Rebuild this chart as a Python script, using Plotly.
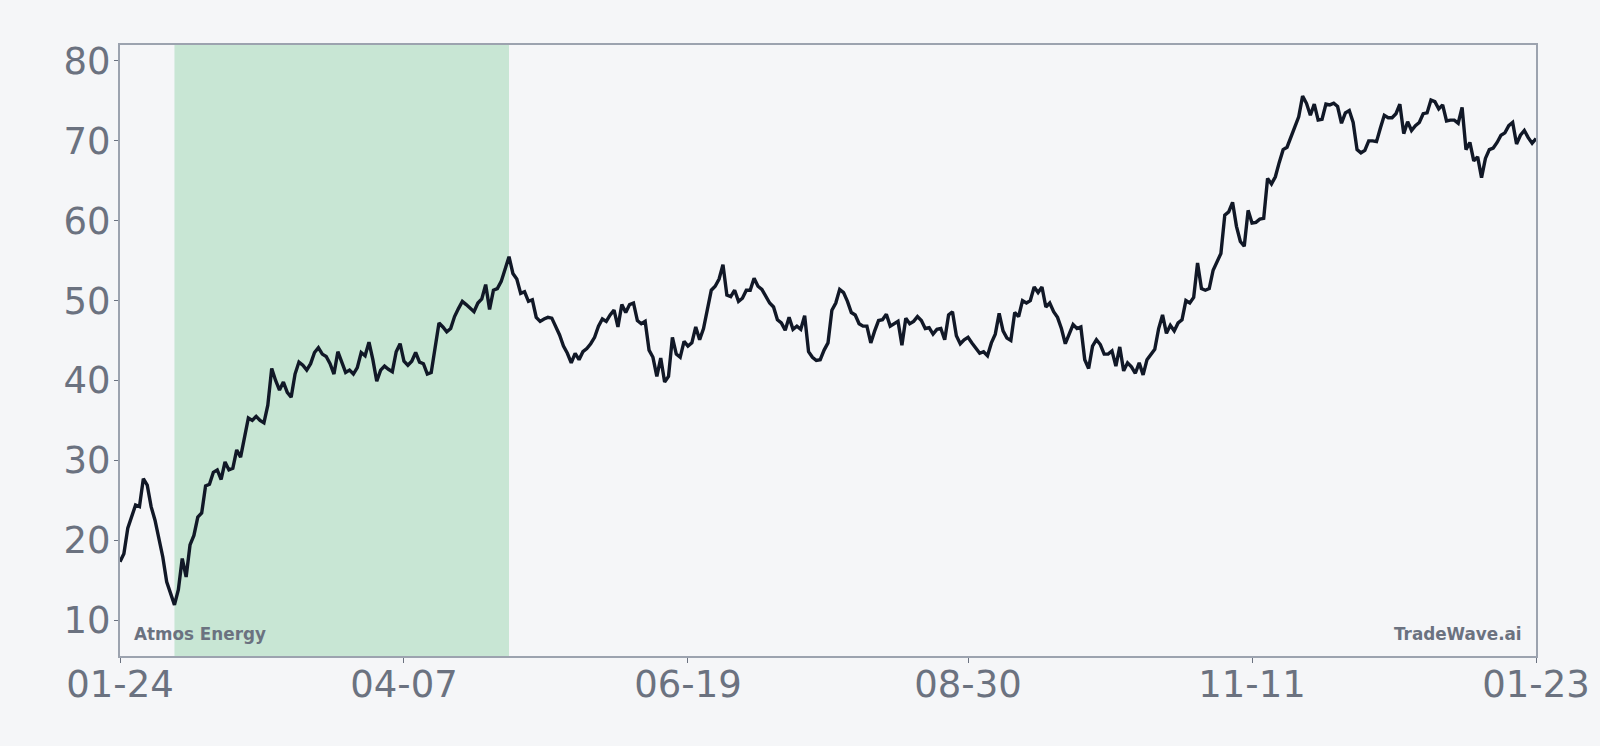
import pandas as pd
import plotly.graph_objects as go

start_date = "2023-01-24"
values = [
    17.3, 18.3, 21.5, 22.9, 24.4, 24.2, 27.7, 26.9, 24.2, 22.5,
    20.4, 17.9, 14.8, 13.3, 11.9, 13.8, 17.7, 15.4, 19.4, 20.6,
    22.9, 23.4, 26.8, 27.0, 28.5, 28.8, 27.6, 29.8, 28.8, 29.0,
    31.3, 30.4, 32.9, 35.3, 35.0, 35.5, 35.0, 34.7, 36.9, 41.5,
    40.0, 38.8, 39.8, 38.5, 37.9, 40.8, 42.3, 41.9, 41.3, 42.1,
    43.5, 44.1, 43.3, 43.0, 42.1, 40.8, 43.6, 42.4, 41.0, 41.3,
    40.8, 41.6, 43.5, 43.1, 44.8, 42.6, 39.9, 41.3, 41.8, 41.4,
    41.1, 43.6, 44.6, 42.4, 41.9, 42.4, 43.5, 42.3, 42.1, 40.8,
    41.0, 44.1, 47.2, 46.7, 46.1, 46.5, 48.0, 49.0, 49.9, 49.5,
    49.0, 48.6, 49.7, 50.2, 52.0, 48.9, 51.3, 51.5, 52.4, 53.8,
    55.5, 53.4, 52.7, 50.9, 51.1, 49.9, 50.1, 47.9, 47.4, 47.7,
    47.9, 47.8, 46.8, 45.7, 44.3, 43.4, 42.2, 43.4, 42.6, 43.6,
    44.0, 44.6, 45.4, 46.8, 47.7, 47.4, 48.2, 48.8, 46.7, 49.5,
    48.5, 49.5, 49.7, 47.5, 47.1, 47.4, 43.8, 42.9, 40.5, 42.8,
    39.8, 40.5, 45.4, 43.3, 42.9, 44.9, 44.3, 44.7, 46.7, 45.1,
    46.5, 48.8, 51.3, 51.8, 52.7, 54.5, 50.7, 50.5, 51.3, 49.9,
    50.3, 51.3, 51.3, 52.8, 51.8, 51.4, 50.5, 49.7, 49.2, 47.6,
    47.2, 46.3, 47.9, 46.4, 46.8, 46.4, 48.1, 43.6, 42.9, 42.5,
    42.6, 43.8, 44.7, 48.8, 49.7, 51.4, 51.0, 49.9, 48.5, 48.2,
    47.1, 46.8, 46.8, 44.7, 46.2, 47.5, 47.6, 48.3, 46.8, 47.1,
    47.4, 44.4, 47.8, 47.1, 47.4, 48.0, 47.5, 46.5, 46.6, 45.8,
    46.4, 46.5, 45.1, 48.2, 48.6, 45.6, 44.6, 45.1, 45.4, 44.7,
    44.1, 43.4, 43.6, 43.1, 44.7, 45.8, 48.4, 46.2, 45.3, 45.0,
    48.5, 48.0, 50.0, 49.7, 50.0, 51.7, 51.0, 51.7, 49.2, 49.7,
    48.6, 47.9, 46.5, 44.6, 45.8, 47.0, 46.5, 46.7, 42.6, 41.5,
    44.3, 45.1, 44.5, 43.3, 43.3, 43.7, 41.8, 44.2, 41.2, 42.2,
    41.7, 40.9, 42.2, 40.7, 42.6, 43.3, 43.9, 46.5, 48.2, 45.9,
    46.9, 46.2, 47.2, 47.6, 50.0, 49.7, 50.4, 54.7, 51.5, 51.3,
    51.5, 53.8, 54.8, 55.9, 60.7, 61.1, 62.3, 59.3, 57.4, 56.8,
    61.3, 59.7, 59.8, 60.2, 60.3, 65.3, 64.6, 65.5, 67.3, 68.9,
    69.2, 70.4, 71.6, 73.0, 75.6, 74.7, 73.2, 74.6, 72.6, 72.7,
    74.6, 74.5, 74.7, 74.3, 72.2, 73.5, 73.8, 72.3, 68.9, 68.5,
    68.8, 70.0, 70.0, 69.9, 71.6, 73.2, 72.9, 72.9, 73.4, 74.6,
    70.9, 72.4, 71.3, 71.9, 72.3, 73.4, 73.5, 75.1, 74.9, 74.0,
    74.5, 72.5, 72.6, 72.6, 72.2, 74.2, 68.9, 69.8, 67.5, 68.0,
    65.4, 67.8, 68.9, 69.1, 69.8, 70.7, 71.0, 71.9, 72.3, 69.6,
    70.7, 71.3, 70.4, 69.7, 70.3,
]
tick_dates = ["2023-01-24", "2023-04-07", "2023-06-19", "2023-08-30", "2023-11-11", "2024-01-23"]
shade_start = "2023-02-07"
shade_end = "2023-05-04"
company = "Atmos Energy"
brand = "TradeWave.ai"

dates = pd.date_range(start=start_date, periods=len(values), freq="D")

BG = "#f5f6f8"
GRAY = "#6b7280"
AXIS = "#9ca3af"

fig = go.Figure()
fig.add_trace(go.Scatter(
    x=dates, y=values, mode="lines",
    line=dict(color="#111827", width=3.4),
    hoverinfo="x+y", showlegend=False,
))

fig.add_vrect(x0=shade_start, x1=shade_end, fillcolor="#c8e6d4", opacity=1,
              line_width=0, layer="below")

fig.add_annotation(text=company, xref="paper", yref="paper", x=0, y=0,
                   xanchor="left", yanchor="bottom", xshift=12, yshift=10,
                   showarrow=False,
                   font=dict(family="DejaVu Sans", size=16.8, color=GRAY, weight="bold"))
fig.add_annotation(text=brand, xref="paper", yref="paper", x=1, y=0,
                   xanchor="right", yanchor="bottom", xshift=-12, yshift=10,
                   showarrow=False,
                   font=dict(family="DejaVu Sans", size=16.8, color=GRAY, weight="bold"))

axis_common = dict(
    showline=True, mirror=True, linecolor=AXIS, linewidth=2,
    ticks="outside", tickcolor=GRAY, tickwidth=1,
    showgrid=False, zeroline=False, automargin=False,
    tickfont=dict(family="DejaVu Sans", size=37, color=GRAY),
)

fig.update_xaxes(
    type="date", range=[dates[0], dates[-1]],
    tickvals=pd.to_datetime(tick_dates), tickformat="%m-%d",
    ticklen=5, ticklabelstandoff=-10,
    **axis_common,
)
fig.update_yaxes(
    range=[5.5, 82.0], tickvals=[10, 20, 30, 40, 50, 60, 70, 80],
    ticklen=4, ticklabelstandoff=-4,
    **axis_common,
)

fig.update_layout(
    width=1600, height=746,
    paper_bgcolor=BG, plot_bgcolor=BG,
    margin=dict(l=120, r=64, t=45, b=90),
    font=dict(family="DejaVu Sans", color=GRAY),
)

fig.write_html("out.html")
